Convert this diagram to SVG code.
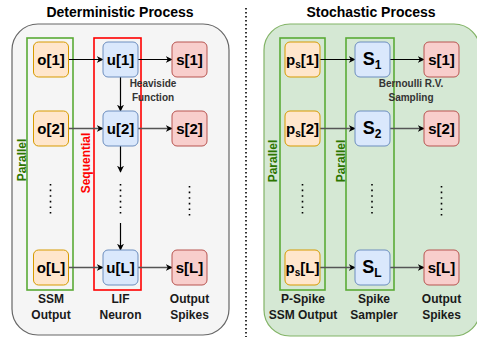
<svg xmlns="http://www.w3.org/2000/svg" width="477" height="339" viewBox="0 0 477 339">
<defs>
<marker id="ah" viewBox="0 0 10 10" refX="9" refY="5" markerWidth="7" markerHeight="7" markerUnits="userSpaceOnUse" orient="auto"><path d="M0,0 L10,5 L0,10 L3,5 Z" fill="#000"/></marker>
<style>
text{font-family:"Liberation Sans",Arial,sans-serif;font-weight:bold;}
.title{font-size:14px;fill:#000;text-anchor:middle;}
.nt{font-size:15px;fill:#000;text-anchor:middle;}
.lbl{font-size:12px;fill:#1a1a1a;text-anchor:middle;}
.vl{font-size:12px;text-anchor:middle;}
.sm{font-size:10px;fill:#333;text-anchor:middle;}
.o{fill:#ffe6cc;stroke:#d79b00;stroke-width:1;}
.u{fill:#dae8fc;stroke:#6c8ebf;stroke-width:1;}
.s{fill:#f8cecc;stroke:#b85450;stroke-width:1;}
.gbox{fill:none;stroke:#5aab36;stroke-width:1.6;}
.rbox{fill:none;stroke:#ff0000;stroke-width:1.6;}
.ar{fill:none;stroke:#000;stroke-width:1.2;marker-end:url(#ah);}
.ar2{fill:none;stroke:#555;stroke-width:1.6;marker-end:url(#ah);}
.dots{stroke:#000;stroke-width:1.6;stroke-dasharray:1.6 4;fill:none;}
</style>
</defs>
<rect x="0" y="0" width="477" height="339" fill="#ffffff"/>
<text class="title" x="120" y="17">Deterministic Process</text>
<text class="title" x="371" y="17">Stochastic Process</text>
<line x1="246" y1="8" x2="246" y2="337" stroke="#000" stroke-width="1.6" stroke-dasharray="1.6 2.4"/>
<g id="det-container"><rect x="12" y="24" width="217" height="311" rx="26" fill="#f5f5f5" stroke="#666" stroke-width="1.2"/></g>
<g id="sto-container"><rect x="264" y="24" width="216" height="312" rx="26" fill="#d5e8d4" stroke="#82b366" stroke-width="1.2"/></g>
<g id="det-parallel"><rect class="gbox" x="27" y="38" width="46" height="252"/><text class="vl" transform="translate(25.5,160) rotate(-90)" style="fill:#2d7600">Parallel</text></g>
<g id="det-sequential"><rect class="rbox" x="94" y="38" width="47" height="252"/><text class="vl" transform="translate(89.5,163) rotate(-90)" style="fill:#ff0000">Sequential</text></g>
<g id="sto-parallel1"><rect class="gbox" x="280" y="38" width="45" height="252"/><text class="vl" transform="translate(276.5,161) rotate(-90)" style="fill:#2d7600">Parallel</text></g>
<g id="sto-parallel2"><rect class="gbox" x="346" y="38" width="48" height="252"/><text class="vl" transform="translate(344.5,161) rotate(-90)" style="fill:#2d7600">Parallel</text></g>
<g id="connectors">
<line class="ar" x1="69" y1="59.5" x2="103" y2="59.5"/>
<line class="ar" x1="138" y1="59.5" x2="172" y2="59.5"/>
<line class="ar2" x1="69" y1="128.5" x2="103" y2="128.5"/>
<line class="ar2" x1="138" y1="128.5" x2="172" y2="128.5"/>
<line class="ar2" x1="69" y1="267.5" x2="103" y2="267.5"/>
<line class="ar2" x1="138" y1="267.5" x2="172" y2="267.5"/>
<line class="ar" x1="120.5" y1="77" x2="120.5" y2="111"/>
<line class="ar" x1="120.5" y1="146" x2="120.5" y2="172"/>
<line class="ar" x1="120.5" y1="223" x2="120.5" y2="250"/>
<line class="ar" x1="320" y1="59.5" x2="355" y2="59.5"/>
<line class="ar" x1="390" y1="59.5" x2="424" y2="59.5"/>
<line class="ar2" x1="320" y1="128.5" x2="355" y2="128.5"/>
<line class="ar2" x1="390" y1="128.5" x2="424" y2="128.5"/>
<line class="ar2" x1="320" y1="267.5" x2="355" y2="267.5"/>
<line class="ar2" x1="390" y1="267.5" x2="424" y2="267.5"/>
<line class="dots" x1="50.5" y1="184" x2="50.5" y2="215"/>
<line class="dots" x1="120.5" y1="184" x2="120.5" y2="215"/>
<line class="dots" x1="189.5" y1="186" x2="189.5" y2="217"/>
<line class="dots" x1="302.5" y1="184" x2="302.5" y2="215"/>
<line class="dots" x1="372" y1="184" x2="372" y2="215"/>
<line class="dots" x1="441.5" y1="186" x2="441.5" y2="217"/>
</g>
<text class="sm" x="153" y="87">Heaviside</text>
<text class="sm" x="153" y="101">Function</text>
<text class="sm" x="411" y="87">Bernoulli R.V.</text>
<text class="sm" x="411" y="101">Sampling</text>
<g id="o1"><rect class="o" x="33.5" y="42" width="35" height="35" rx="5"/><text class="nt" x="51" y="65">o[1]</text></g>
<g id="o2"><rect class="o" x="33.5" y="111" width="35" height="35" rx="5"/><text class="nt" x="51" y="134">o[2]</text></g>
<g id="oL"><rect class="o" x="33.5" y="250" width="35" height="35" rx="5"/><text class="nt" x="51" y="273">o[L]</text></g>
<g id="u1"><rect class="u" x="103" y="42" width="35" height="35" rx="5"/><text class="nt" x="120.5" y="65">u[1]</text></g>
<g id="u2"><rect class="u" x="103" y="111" width="35" height="35" rx="5"/><text class="nt" x="120.5" y="134">u[2]</text></g>
<g id="uL"><rect class="u" x="103" y="250" width="35" height="35" rx="5"/><text class="nt" x="120.5" y="273">u[L]</text></g>
<g id="s1"><rect class="s" x="172" y="42" width="35" height="35" rx="5"/><text class="nt" x="189.5" y="65">s[1]</text></g>
<g id="s2"><rect class="s" x="172" y="111" width="35" height="35" rx="5"/><text class="nt" x="189.5" y="134">s[2]</text></g>
<g id="sL"><rect class="s" x="172" y="250" width="35" height="35" rx="5"/><text class="nt" x="189.5" y="273">s[L]</text></g>
<g id="p1"><rect class="o" x="285" y="42" width="35" height="35" rx="5"/><text class="nt" x="302.5" y="65">p<tspan font-size="10" dy="3">s</tspan><tspan dy="-3">[1]</tspan></text></g>
<g id="p2"><rect class="o" x="285" y="111" width="35" height="35" rx="5"/><text class="nt" x="302.5" y="134">p<tspan font-size="10" dy="3">s</tspan><tspan dy="-3">[2]</tspan></text></g>
<g id="pL"><rect class="o" x="285" y="250" width="35" height="35" rx="5"/><text class="nt" x="302.5" y="273">p<tspan font-size="10" dy="3">s</tspan><tspan dy="-3">[L]</tspan></text></g>
<g id="S1"><rect class="u" x="355" y="42" width="35" height="35" rx="5"/><text class="nt" x="372" y="65" style="font-size:18px">S<tspan style="font-size:12px" dy="4">1</tspan></text></g>
<g id="S2"><rect class="u" x="355" y="111" width="35" height="35" rx="5"/><text class="nt" x="372" y="134" style="font-size:18px">S<tspan style="font-size:12px" dy="4">2</tspan></text></g>
<g id="SL"><rect class="u" x="355" y="250" width="35" height="35" rx="5"/><text class="nt" x="372" y="273" style="font-size:18px">S<tspan style="font-size:12px" dy="4">L</tspan></text></g>
<g id="ss1"><rect class="s" x="424" y="42" width="35" height="35" rx="5"/><text class="nt" x="441.5" y="65">s[1]</text></g>
<g id="ss2"><rect class="s" x="424" y="111" width="35" height="35" rx="5"/><text class="nt" x="441.5" y="134">s[2]</text></g>
<g id="ssL"><rect class="s" x="424" y="250" width="35" height="35" rx="5"/><text class="nt" x="441.5" y="273">s[L]</text></g>
<text class="lbl" x="51" y="303">SSM</text>
<text class="lbl" x="51" y="319">Output</text>
<text class="lbl" x="120.5" y="303">LIF</text>
<text class="lbl" x="120.5" y="319">Neuron</text>
<text class="lbl" x="189.5" y="303">Output</text>
<text class="lbl" x="189.5" y="319">Spikes</text>
<text class="lbl" x="303" y="303">P-Spike</text>
<text class="lbl" x="303" y="319">SSM Output</text>
<text class="lbl" x="374" y="303">Spike</text>
<text class="lbl" x="374" y="319">Sampler</text>
<text class="lbl" x="441.5" y="303">Output</text>
<text class="lbl" x="441.5" y="319">Spikes</text>
</svg>
